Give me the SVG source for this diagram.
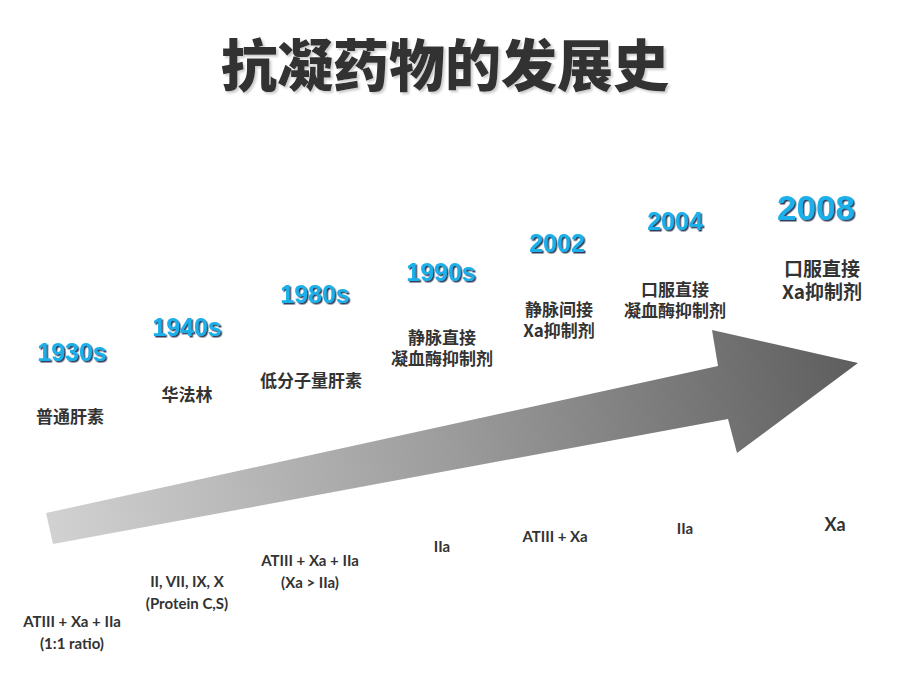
<svg xmlns="http://www.w3.org/2000/svg" width="920" height="690" viewBox="0 0 920 690">
<defs>
<linearGradient id="ag" gradientUnits="userSpaceOnUse" x1="46" y1="530" x2="858" y2="380">
<stop offset="0" stop-color="#d2d2d2"/>
<stop offset="0.5" stop-color="#9c9c9c"/>
<stop offset="1" stop-color="#5e5e5e"/>
</linearGradient>
<filter id="sh" x="-10%" y="-20%" width="120%" height="140%">
<feDropShadow dx="1.5" dy="1.5" stdDeviation="0.4" flood-color="#1a2a4a" flood-opacity="0.9"/>
</filter>
<filter id="tsh" x="-5%" y="-20%" width="110%" height="140%">
<feDropShadow dx="2" dy="2" stdDeviation="1" flood-color="#aaa" flood-opacity="0.6"/>
</filter>
</defs>
<style>
.title{font-family:"Noto Sans CJK SC","Noto Sans",sans-serif;font-weight:900;font-size:56px;fill:#333;text-anchor:middle}
.yr{font-family:"Liberation Sans",Arial,sans-serif;font-weight:bold;font-size:25px;fill:#1ab0ea;text-anchor:middle}
.cn{font-family:"Noto Sans CJK SC",sans-serif;font-weight:bold;font-size:17px;fill:#333;text-anchor:middle}
.en{font-family:Lato,"Open Sans","Liberation Sans",sans-serif;font-weight:bold;font-size:15px;fill:#333;text-anchor:middle}
</style>
<rect width="920" height="690" fill="#fff"/>
<text class="title" x="445" y="86" filter="url(#tsh)">抗凝药物的发展史</text>
<g id="arrow">
<path d="M46,513 L718,366 L712,330 L858,363 L737,453 L728,419 L53,544 Z" fill="url(#ag)"/>
</g>
<g id="n1930">
<text class="yr" x="72" y="361" filter="url(#sh)">1930s</text>
<text class="cn" x="70" y="423">普通肝素</text>
<text class="en" x="72" y="627">ATIII + Xa + IIa<tspan x="72" y="649">(1:1 ratio)</tspan></text>
</g>
<g id="n1940">
<text class="yr" x="187" y="336" filter="url(#sh)">1940s</text>
<text class="cn" x="187" y="401">华法林</text>
<text class="en" x="187" y="587">II, VII, IX, X<tspan x="187" y="609">(Protein C,S)</tspan></text>
</g>
<g id="n1980">
<text class="yr" x="315" y="303" filter="url(#sh)">1980s</text>
<text class="cn" x="311" y="387">低分子量肝素</text>
<text class="en" x="310" y="566">ATIII + Xa + IIa<tspan x="310" y="588">(Xa &gt; IIa)</tspan></text>
</g>
<g id="n1990">
<text class="yr" x="441" y="281" filter="url(#sh)">1990s</text>
<text class="cn" x="442" y="344">静脉直接<tspan x="442" y="365">凝血酶抑制剂</tspan></text>
<text class="en" x="442" y="552">IIa</text>
</g>
<g id="n2002">
<text class="yr" x="557" y="252" filter="url(#sh)">2002</text>
<text class="cn" x="559" y="316">静脉间接<tspan x="559" y="337">Xa抑制剂</tspan></text>
<text class="en" x="555" y="542">ATIII + Xa</text>
</g>
<g id="n2004">
<text class="yr" x="675" y="230" filter="url(#sh)">2004</text>
<text class="cn" x="675" y="296">口服直接<tspan x="675" y="317">凝血酶抑制剂</tspan></text>
<text class="en" x="685" y="534">IIa</text>
</g>
<g id="n2008">
<text class="yr" x="816" y="220" style="font-size:35px" filter="url(#sh)">2008</text>
<text class="cn" x="822" y="276" style="font-size:19px">口服直接<tspan x="822" y="299">Xa抑制剂</tspan></text>
<text class="en" x="835" y="531" style="font-size:18px">Xa</text>
</g>
</svg>
